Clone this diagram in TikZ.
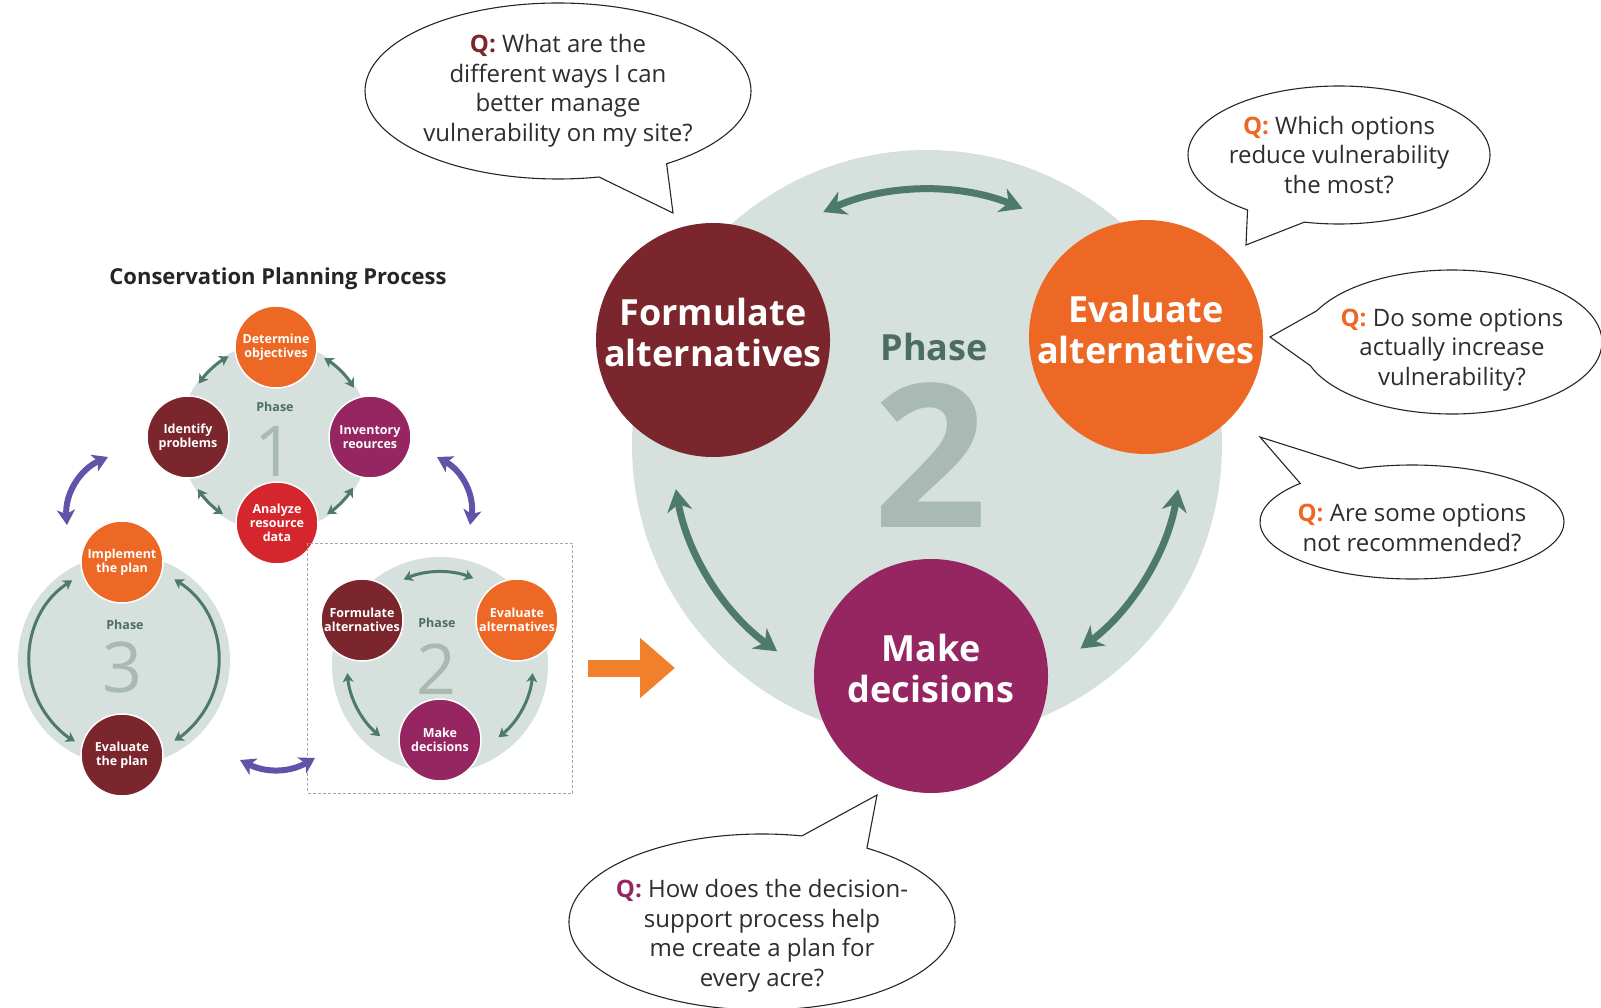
\documentclass[tikz,border=0pt]{standalone}
\usepackage{fontspec}
\setmainfont{Open Sans}
\usepackage{xcolor}
\usetikzlibrary{positioning, calc, arrows.meta, shapes.callouts}
\definecolor{formcolor}{RGB}{122,38,44}
\definecolor{evalcolor}{RGB}{236,104,36}
\definecolor{deccolor}{RGB}{150,38,98}
\definecolor{anacolor}{RGB}{214,38,45}
\definecolor{bgcolor}{RGB}{214,225,221}
\definecolor{cyccolor}{RGB}{78,122,106}
\definecolor{phasecolor}{RGB}{76,110,96}
\definecolor{digitcolor}{RGB}{168,186,179}
\definecolor{linkcolor}{RGB}{98,82,168}
\definecolor{fwdcolor}{RGB}{240,128,42}
\definecolor{qtext}{RGB}{45,45,45}
% "Q:" tag; the optional strut pushes the text down inside its bubble
\newcommand{\qmark}[2][0pt]{\rule{0pt}{#1}\textcolor{#2}{\textbf{Q:}}}
\tikzset{
  stage/.style={
    circle, minimum size=234pt, inner sep=0pt, align=center,
    text=white, font=\fontsize{36pt}{41pt}\selectfont\bfseries,
    execute at end node={\rule[-15pt]{0pt}{0pt}}
  },
  minstage/.style={
    circle, draw=white, line width=1.5pt, minimum size=82pt, inner sep=0pt,
    align=center, text=white, font=\fontsize{12.5pt}{14pt}\selectfont\bfseries
  },
  phasebg/.style={circle, fill=bgcolor, inner sep=0pt},
  minphase/.style={text=phasecolor, font=\fontsize{12.5pt}{14pt}\selectfont\bfseries},
  mindigit/.style={text=digitcolor, inner sep=0pt, font=\fontsize{70pt}{70pt}\selectfont},
  bigcyc/.style={{Stealth[length=22pt,width=25pt,inset=7pt]}-{Stealth[length=22pt,width=25pt,inset=7pt]},
                 line width=7pt, cyccolor},
  smallcyc/.style={{Stealth[length=9pt,width=11pt,inset=2.5pt]}-{Stealth[length=9pt,width=11pt,inset=2.5pt]},
                   line width=3pt, cyccolor},
  grplink/.style={{Stealth[length=15pt,width=18pt,inset=4pt]}-{Stealth[length=15pt,width=18pt,inset=4pt]},
                  line width=6pt, linkcolor},
  fwd/.style={-{Triangle[length=35pt,width=58pt]}, line width=17pt, fwdcolor},
  % speech bubbles with a question
  bubble/.style={
    ellipse callout, draw=black!85, line width=1.1pt, fill=white, inner sep=0pt,
    align=center, text=qtext, font=\fontsize{24pt}{29.5pt}\selectfont
  },
}

\begin{document}
\begin{tikzpicture}[x=1pt, y=-1pt]
\useasboundingbox (0,0) rectangle (1601,1008);

%% ── enlarged phase 2 ─────────────────────────────────────────────
\node[phasebg, minimum size=590pt] (bigbg) at (927,445) {};
\node[text=digitcolor, inner sep=0pt, font=\fontsize{200pt}{200pt}\selectfont\bfseries] (bignum) at (931,455) {2};
\node[text=phasecolor, font=\fontsize{36pt}{40pt}\selectfont\bfseries] (bigphase) at (934,347) {Phase};

\node[stage, fill=formcolor] (bform) at (713,340) {Formulate\\alternatives};
\node[stage, fill=evalcolor] (beval) at (1146,337) {Evaluate\\alternatives};
\node[stage, fill=deccolor]  (bdec)  at (931,676) {Make\\decisions};

\foreach \a/\b in {114/68, 190/234, 350/307}
  \draw[bigcyc] ([shift={(\a:255pt)}]bigbg.center) arc[start angle=\a, end angle=\b, radius=255pt];

%% ── conservation planning process (small) ───────────────────────
\node[font=\fontsize{22pt}{26pt}\selectfont\bfseries, text=black!85] (title) at (278,279) {Conservation Planning Process};

% phase 1
\node[phasebg, minimum size=190pt] (p1bg) at (275,437) {};
\node[mindigit] (p1num) at (275,452) {1};
\node[minphase] (p1word) at (275,407) {Phase};
\node[minstage, fill=evalcolor] (det) at (276,347) {Determine\\objectives};
\node[minstage, fill=formcolor] (idp) at (188,437) {Identify\\problems};
\node[minstage, fill=deccolor]  (inv) at (370,437) {Inventory\\reources};
\node[minstage, fill=anacolor]  (ana) at (277,523) {Analyze\\resource\\data};
\foreach \a/\b in {145/120, 58/32, 236/214, 327/304}
  \draw[smallcyc] ([shift={(\a:93pt)}]p1bg.center) arc[start angle=\a, end angle=\b, radius=93pt];

% phase 3
\node[phasebg, minimum size=212pt] (p3bg) at (124,660) {};
\node[mindigit] (p3num) at (123,667) {3};
\node[minphase] (p3word) at (125,625) {Phase};
\node[minstage, fill=evalcolor] (imp) at (122,562) {Implement\\the plan};
\node[minstage, fill=formcolor] (evp) at (122,755) {Evaluate\\the plan};
\foreach \a/\b in {123/239, 58/-58}
  \draw[smallcyc] ([shift={(\a:95pt)}]p3bg.center) arc[start angle=\a, end angle=\b, radius=95pt];

% phase 2
\node[draw=gray!70, line width=0.8pt, dash pattern=on 3pt off 2pt,
      minimum width=265pt, minimum height=250pt] (p2box) at (440,668) {};
\node[phasebg, minimum size=216pt] (p2bg) at (440,665) {};
\node[mindigit] (p2num) at (437,669) {2};
\node[minphase] (p2word) at (437,623) {Phase};
\node[minstage, fill=formcolor] (sform) at (362,620) {Formulate\\alternatives};
\node[minstage, fill=evalcolor] (seval) at (517,620) {Evaluate\\alternatives};
\node[minstage, fill=deccolor]  (sdec)  at (440,740) {Make\\decisions};
\foreach \a/\b in {113/69, 185/230, 355/309}
  \draw[smallcyc] ([shift={(\a:93pt)}]p2bg.center) arc[start angle=\a, end angle=\b, radius=93pt];

% links between the phases
\coordinate (lkA) at (108,457);
\coordinate (lkB) at (67,525);
\coordinate (lkC) at (437,457);
\coordinate (lkD) at (470,525);
\coordinate (lkE) at (240,760);
\coordinate (lkF) at (315,758);
\draw[grplink] (lkA) to[bend right=35] (lkB);
\draw[grplink] (lkC) to[bend left=35] (lkD);
\draw[grplink] (lkE) to[bend right=28] (lkF);

%% ── small phase 2 -> enlarged phase 2 ───────────────────────────
\draw[fwd, shorten <=15pt, shorten >=38pt] (p2box.east) -- (p2box.east -| bform.center);

%% ── question bubbles ────────────────────────────────────────────
\node[bubble, minimum width=386pt, minimum height=176pt,
      callout absolute pointer={(673,213)}, callout pointer arc=22] (qways) at (558,91)
  {\qmark{formcolor} What are the\\different ways I can\\better manage\\vulnerability on my site?};
\node[bubble, inner xsep=-5pt, minimum width=302pt, minimum height=138pt,
      callout absolute pointer={(1246,245)}, callout pointer arc=24] (qreduce) at (1339,155)
  {\qmark{evalcolor} Which options\\reduce vulnerability\\the most?};
\node[bubble, inner xsep=-6pt, minimum width=300pt, minimum height=144pt,
      callout absolute pointer={(1270,337)}, callout pointer arc=45] (qincrease) at (1452,342)
  {\qmark[33pt]{evalcolor} Do some options\\actually increase\\vulnerability?};
\node[bubble, inner xsep=-8pt, minimum width=304pt, minimum height=114pt,
      callout absolute pointer={(1260,437)}, callout pointer arc=27] (qnotrec) at (1412,522)
  {\qmark[29pt]{evalcolor} Are some options\\not recommended?};
\node[bubble, inner xsep=-10pt, inner ysep=-15pt, minimum width=386pt, minimum height=176pt,
      callout absolute pointer={(877,795)}, callout pointer arc=21] (qacre) at (762,922)
  {\qmark[46pt]{deccolor} How does the decision-\\support process help\\me create a plan for\\every acre?};

\end{tikzpicture}
\end{document}
